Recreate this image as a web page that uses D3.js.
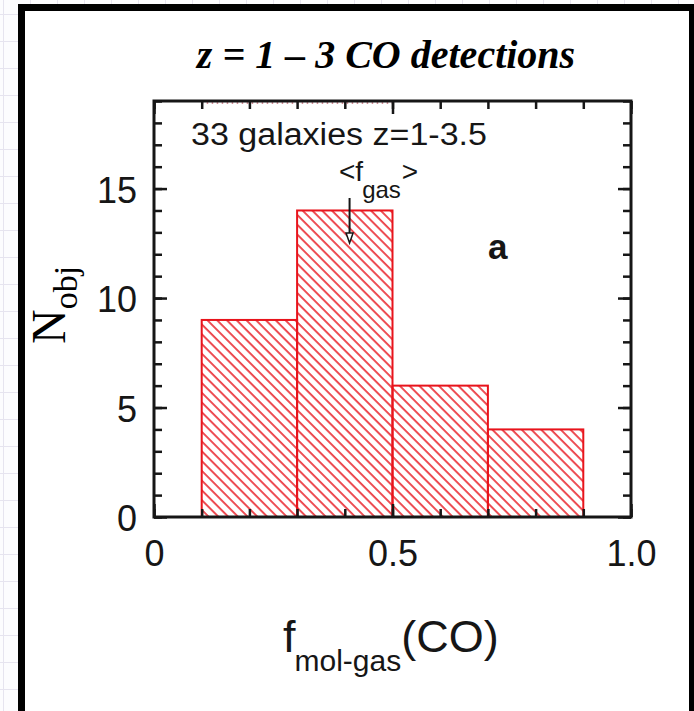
<!DOCTYPE html>
<html><head><meta charset="utf-8">
<script src="https://cdn.jsdelivr.net/npm/d3@7"></script>
<style>html,body{margin:0;padding:0;background:#fff;} svg{display:block;}</style>
</head><body>
<svg id="chart" width="694" height="711"></svg>
<script>
// Histogram of molecular gas fractions for z = 1-3 CO detections
const binEdges = [0.1, 0.3, 0.5, 0.7, 0.9];
const counts = [9, 14, 6, 4];
const xTickValues = [0, 0.5, 1.0];
const xTickLabels = ["0", "0.5", "1.0"];
const yTickValues = [0, 5, 10, 15];
const yTickLabels = ["0", "5", "10", "15"];
const meanFgas = 0.41;
const xDomain = [0, 1];
const yDomain = [0, 19];

const W = 694, H = 711;
const svg = d3.select("#chart");
const sans = "'Liberation Sans', Arial, Helvetica, sans-serif";
const serif = "'Liberation Serif', 'Times New Roman', Times, serif";
const ink = "#161616";
const red = "#e8141c";

// page backdrop: faint graph-paper grid outside the panel
svg.append("rect").attr("width", W).attr("height", H).attr("fill", "#fcfcfe");
const grid = svg.append("g").attr("stroke", "#e6e4ef").attr("stroke-width", 1);
d3.range(14, H, 27).forEach(v => grid.append("line").attr("x1", 0).attr("x2", W).attr("y1", v + 0.5).attr("y2", v + 0.5));
d3.range(3, W, 27).forEach(v => grid.append("line").attr("y1", 0).attr("y2", H).attr("x1", v + 0.5).attr("x2", v + 0.5));

// white panel with heavy black border
svg.append("rect").attr("x", 21.5).attr("y", 7.5).attr("width", 671).attr("height", 720)
  .attr("fill", "#fff").attr("stroke", "#000").attr("stroke-width", 7);

const x = d3.scaleLinear().domain(xDomain).range([154, 631]);
const y = d3.scaleLinear().domain(yDomain).range([517, 101]);

// diagonal hatch
const defs = svg.append("defs");
const pat = defs.append("pattern").attr("id", "hatch").attr("patternUnits", "userSpaceOnUse")
  .attr("width", 6.9).attr("height", 6.9).attr("patternTransform", "rotate(-45)");
pat.append("line").attr("x1", 3).attr("x2", 3).attr("y1", -1).attr("y2", 8)
  .attr("stroke", red).attr("stroke-width", 1.5);

const bins = counts.map((c, i) => ({x0: binEdges[i], x1: binEdges[i + 1], n: c}));

svg.append("g").selectAll("rect").data(bins).join("rect")
  .attr("x", d => x(d.x0)).attr("width", d => x(d.x1) - x(d.x0))
  .attr("y", d => y(d.n)).attr("height", d => y(0) - y(d.n))
  .attr("fill", "url(#hatch)").attr("stroke", red).attr("stroke-width", 2);

// faint red dashes just under the top axis
svg.append("line").attr("x1", x(0.1)).attr("x2", x(0.5)).attr("y1", y(19) + 2).attr("y2", y(19) + 2)
  .attr("stroke", "#b03040").attr("stroke-width", 2).attr("stroke-dasharray", "1.5,3.5").attr("opacity", 0.55);

// axes with inward ticks
const minorX = d3.range(0, 11).map(i => i / 10);
const minorY = d3.range(0, 20);
function style(g) {
  g.select(".domain").remove();
  g.selectAll(".tick line").attr("stroke", ink).attr("stroke-width", 2.5);
  g.selectAll("text").attr("fill", ink).attr("font-family", sans).attr("font-size", 36);
}
svg.append("g").attr("transform", `translate(0,${y(0)})`)
  .call(d3.axisBottom(x).tickValues(minorX).tickSize(-8).tickFormat("")).call(style);
svg.append("g").attr("transform", `translate(0,${y(0)})`)
  .call(d3.axisBottom(x).tickValues(xTickValues).tickSize(-13).tickPadding(23)
    .tickFormat((d, i) => xTickLabels[i])).call(style);
svg.append("g").attr("transform", `translate(0,${y(19)})`)
  .call(d3.axisTop(x).tickValues(minorX).tickSize(-8).tickFormat("")).call(style);
svg.append("g").attr("transform", `translate(0,${y(19)})`)
  .call(d3.axisTop(x).tickValues(xTickValues).tickSize(-13).tickFormat("")).call(style);
svg.append("g").attr("transform", `translate(${x(0)},0)`)
  .call(d3.axisLeft(y).tickValues(minorY).tickSize(-8).tickFormat("")).call(style);
svg.append("g").attr("transform", `translate(${x(0)},0)`)
  .call(d3.axisLeft(y).tickValues(yTickValues).tickSize(-13).tickPadding(17)
    .tickFormat((d, i) => yTickLabels[i])).call(style)
  .selectAll("text").attr("dy", "0.38em");
svg.append("g").attr("transform", `translate(${x(1)},0)`)
  .call(d3.axisRight(y).tickValues(minorY).tickSize(-8).tickFormat("")).call(style);
svg.append("g").attr("transform", `translate(${x(1)},0)`)
  .call(d3.axisRight(y).tickValues(yTickValues).tickSize(-13).tickFormat("")).call(style);

// plot frame
svg.append("rect").attr("x", x(0)).attr("y", y(19)).attr("width", x(1) - x(0)).attr("height", y(0) - y(19))
  .attr("fill", "none").attr("stroke", ink).attr("stroke-width", 3);

// title
svg.append("text").attr("x", 386).attr("y", 68).attr("text-anchor", "middle")
  .attr("font-family", serif).attr("font-weight", "bold").attr("font-style", "italic")
  .attr("font-size", 40).attr("fill", "#000").text("z = 1 – 3 CO detections");

// in-panel annotations
svg.append("text").attr("x", 191).attr("y", 145).attr("font-family", sans).attr("font-size", 31)
  .attr("textLength", 296).attr("lengthAdjust", "spacingAndGlyphs")
  .attr("fill", ink).text("33 galaxies z=1-3.5");

const fg = svg.append("text").attr("x", 339).attr("y", 181).attr("font-family", sans)
  .attr("font-size", 28).attr("fill", ink);
fg.append("tspan").text("<f");
fg.append("tspan").attr("font-size", 24).attr("dy", 17).attr("dx", -1).text("gas");
fg.append("tspan").attr("dy", -17).attr("dx", 1).text(">");

const ax = x(meanFgas);
svg.append("line").attr("x1", ax).attr("x2", ax).attr("y1", 198).attr("y2", 236)
  .attr("stroke", ink).attr("stroke-width", 2);
svg.append("path").attr("d", `M${ax - 3.5},233 L${ax + 3.5},233 L${ax},243 Z`)
  .attr("fill", "#fff").attr("stroke", ink).attr("stroke-width", 1.5);

svg.append("text").attr("x", 488).attr("y", 259).attr("font-family", sans).attr("font-weight", "bold")
  .attr("font-size", 35).attr("fill", ink).text("a");

// axis titles
const xl = svg.append("text").attr("x", 283).attr("y", 652).attr("font-family", sans)
  .attr("font-size", 45).attr("fill", ink);
xl.append("tspan").text("f");
xl.append("tspan").attr("font-size", 30).attr("dy", 19).attr("dx", -1).text("mol-gas");
xl.append("tspan").attr("dy", -19).text("(CO)");

const yl = svg.append("text").attr("transform", "translate(65,344) rotate(-90)")
  .attr("font-family", serif).attr("font-size", 48).attr("fill", "#000");
yl.append("tspan").text("N");
yl.append("tspan").attr("font-size", 34).attr("dy", 12).text("obj");
</script>
</body></html>
